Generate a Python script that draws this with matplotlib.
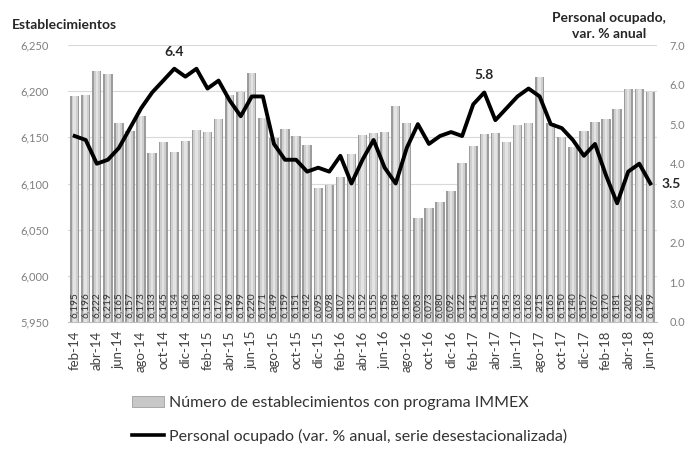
import numpy as np
import matplotlib
matplotlib.use("Agg")
import matplotlib.pyplot as plt
from matplotlib.lines import Line2D
from matplotlib.patches import Patch

# numero de establecimientos con programa IMMEX, feb-14 .. jun-18
establecimientos = [6195, 6196, 6222, 6219, 6165, 6157, 6173, 6133, 6145, 6134,
                    6146, 6158, 6156, 6170, 6196, 6199, 6220, 6171, 6149, 6159,
                    6151, 6142, 6095, 6098, 6107, 6132, 6152, 6155, 6156, 6184,
                    6166, 6063, 6073, 6080, 6092, 6122, 6141, 6154, 6155, 6145,
                    6163, 6166, 6215, 6165, 6150, 6140, 6157, 6167, 6170, 6181,
                    6202, 6202, 6199]

# personal ocupado, var. % anual (serie desestacionalizada)
personal = [4.7, 4.6, 4.0, 4.1, 4.4, 4.9, 5.4, 5.8, 6.1, 6.4,
            6.2, 6.4, 5.9, 6.1, 5.6, 5.2, 5.7, 5.7, 4.5, 4.1,
            4.1, 3.8, 3.9, 3.8, 4.2, 3.5, 4.1, 4.6, 3.9, 3.5,
            4.4, 5.0, 4.5, 4.7, 4.8, 4.7, 5.5, 5.8, 5.1, 5.4,
            5.7, 5.9, 5.7, 5.0, 4.9, 4.6, 4.2, 4.5, 3.7, 3.0,
            3.8, 4.0, 3.5]

tick_labels = ["feb-14", "abr-14", "jun-14", "ago-14", "oct-14", "dic-14",
               "feb-15", "abr-15", "jun-15", "ago-15", "oct-15", "dic-15",
               "feb-16", "abr-16", "jun-16", "ago-16", "oct-16", "dic-16",
               "feb-17", "abr-17", "jun-17", "ago-17", "oct-17", "dic-17",
               "feb-18", "abr-18", "jun-18"]

# points with a data label on the line
destacados = {9: "6.4", 37: "5.8"}

plt.rcParams['font.family'] = ['Lato', 'DejaVu Sans']

W, H = 687, 451
fig = plt.figure(figsize=(W / 100, H / 100), dpi=100)
ax = fig.add_axes([68 / W, 1 - 322 / H, (657 - 68) / W, (322 - 45) / H])

x = np.arange(len(establecimientos))

# "cylinder" bars: darker outer bar with a lighter core
ax.bar(x, establecimientos, width=0.84, color="#9c9c9c", zorder=2)
ax.bar(x, establecimientos, width=0.56, color="#cfcfcf", zorder=3)
ax.bar(x, establecimientos, width=0.22, color="#e4e4e4", zorder=3)

for i, v in enumerate(establecimientos):
    ax.text(i, 5954, f"{v:,}", rotation=90, ha="center", va="bottom",
            fontsize=7.3, color="#333333", zorder=4)

ax.set_xlim(-0.6, len(x) - 0.4)
ax.set_ylim(5950, 6250)
ax.set_yticks(np.arange(5950, 6251, 50))
ax.set_yticklabels([f"{v:,}" for v in range(5950, 6251, 50)])
ax.grid(axis="y", color="#d9d9d9", linewidth=0.8, zorder=0)
ax.set_axisbelow(True)
ax.set_xticks(x[::2])
ax.set_xticklabels(tick_labels, rotation=90)
ax.tick_params(axis="x", length=0, pad=6, labelsize=9.5, colors="#404040")
ax.tick_params(axis="y", length=0, pad=14, labelsize=8, colors="#7f7f7f")
for s in ["top", "right", "left"]:
    ax.spines[s].set_visible(False)
ax.spines["bottom"].set_color("#bfbfbf")

ax2 = ax.twinx()
ax2.plot(x, personal, color="black", linewidth=2.8, zorder=5)
ax2.set_ylim(0, 7)
ax2.set_yticks(np.arange(0, 7.1, 1))
ax2.set_yticklabels([f"{v:.1f}" for v in np.arange(0, 7.1, 1)])
ax2.tick_params(axis="y", length=0, pad=9, labelsize=8, colors="#7f7f7f")
for s in ax2.spines.values():
    s.set_visible(False)

for i, txt in destacados.items():
    ax2.annotate(txt, (i, personal[i]), xytext=(0, 8), textcoords="offset points",
                 ha="center", va="bottom", fontsize=10, fontweight="bold", color="#262626")
ax2.annotate(f"{personal[-1]:.1f}", (x[-1], personal[-1]), xytext=(8, 0),
             textcoords="offset points", ha="left", va="center",
             fontsize=10, fontweight="bold", color="#262626", annotation_clip=False)

fig.text(12 / W, 1 - 25 / H, "Establecimientos", fontsize=10, fontweight="bold",
         color="#262626", va="center")
fig.text(609 / W, 1 - 26 / H, "Personal ocupado,\nvar. % anual", fontsize=10,
         fontweight="bold", color="#262626", ha="center", va="center", linespacing=1.35)

handles = [Patch(facecolor="#c8c8c8", edgecolor="#a0a0a0", linewidth=0.6),
           Line2D([], [], color="black", linewidth=2.6)]
labels = ["Número de establecimientos con programa IMMEX",
          "Personal ocupado (var. % anual, serie desestacionalizada)"]
leg = fig.legend(handles, labels, loc="upper left", bbox_to_anchor=(124 / W, 1 - 388 / H),
                 frameon=False, fontsize=11.5, labelspacing=1.15, handlelength=2.0,
                 handletextpad=0.3, borderpad=0)
for t in leg.get_texts():
    t.set_color("#333333")

fig.savefig("out.png", dpi=100)
